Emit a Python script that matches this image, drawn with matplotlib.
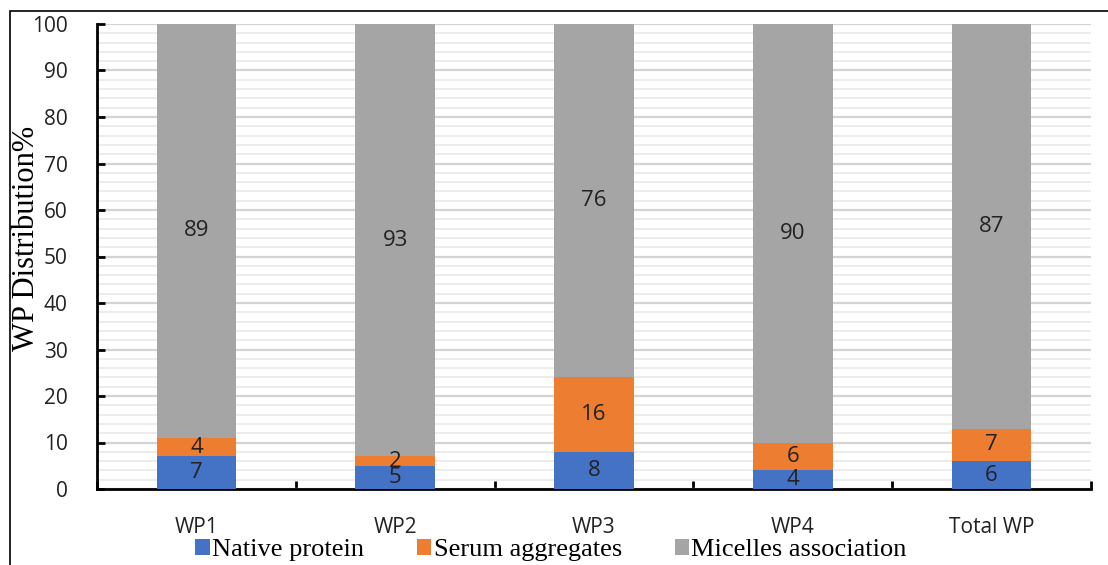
import matplotlib.pyplot as plt
import numpy as np
from matplotlib.patches import Rectangle

# Data
groups = ["WP1", "WP2", "WP3", "WP4", "Total WP"]
native = [7, 5, 8, 4, 6]
serum = [4, 2, 16, 6, 7]
micelles = [89, 93, 76, 90, 87]
series_names = ["Native protein", "Serum aggregates", "Micelles association"]
colors = ["#4472C4", "#ED7D31", "#A5A5A5"]

fig = plt.figure(figsize=(11.08, 5.65), dpi=100)
ax = fig.add_axes([97 / 1108, 1 - 489 / 565, (1091 - 97) / 1108, (489 - 24) / 565])

x = np.arange(len(groups))
bottom = np.zeros(len(groups))
handles = []
for vals, col, name in zip([native, serum, micelles], colors, series_names):
    vals = np.array(vals)
    b = ax.bar(x, vals, 0.4, bottom=bottom, color=col, label=name, zorder=3)
    handles.append(b)
    for xi, v, b0 in zip(x, vals, bottom):
        ax.text(xi, b0 + v / 2, str(v), ha="center", va="center",
                fontsize=16, family="Open Sans", color="#222222", zorder=4)
    bottom += vals

ax.set_xlim(-0.5, len(groups) - 0.5)
ax.set_ylim(0, 100)
ax.set_yticks(np.arange(0, 101, 10))
ax.set_yticks(np.arange(0, 101, 2), minor=True)
ax.set_xticks(x)
ax.set_xticklabels(groups)
ax.set_xticks(np.arange(-0.5, len(groups)), minor=True)

# gridlines
ax.grid(axis="y", which="major", color="#d4d4d4", linewidth=1.6, zorder=0)
ax.grid(axis="y", which="minor", color="#ececec", linewidth=1.4, zorder=0)

for s in ["top", "right"]:
    ax.spines[s].set_visible(False)
ax.spines["left"].set_linewidth(2)
ax.spines["bottom"].set_linewidth(2)

ax.tick_params(axis="y", which="major", direction="in", length=6, width=2,
               labelsize=15, pad=21)
ax.tick_params(axis="y", which="minor", length=0)
ax.tick_params(axis="x", which="major", length=0, labelsize=15, pad=20)
ax.tick_params(axis="x", which="minor", direction="in", length=6, width=2)
for lab in ax.get_xticklabels() + ax.get_yticklabels():
    lab.set_family("Open Sans")
    lab.set_color("#222222")

ax.set_ylabel("WP Distribution%", family="Liberation Serif", fontsize=22)
ax.yaxis.set_label_coords((27 - 97) / 994, (489 - 238) / 465)
ax.yaxis.label.set_verticalalignment("center")

fig.legend(handles=handles, labels=series_names, loc="center", ncol=3,
           bbox_to_anchor=(551 / 1108, 1 - 550 / 565), frameon=False,
           prop={"family": "Liberation Serif", "size": 19},
           handlelength=0.55, handleheight=0.55, handletextpad=0.08,
           columnspacing=2.0, borderpad=0)

# outer chart border (partially cropped)
fig.patches.append(Rectangle((10 / 1108, -0.1), 1.2, 1 - 11 / 565 + 0.1,
                             transform=fig.transFigure, fill=False,
                             edgecolor="black", linewidth=1.2))

fig.savefig("out.png", dpi=100)
